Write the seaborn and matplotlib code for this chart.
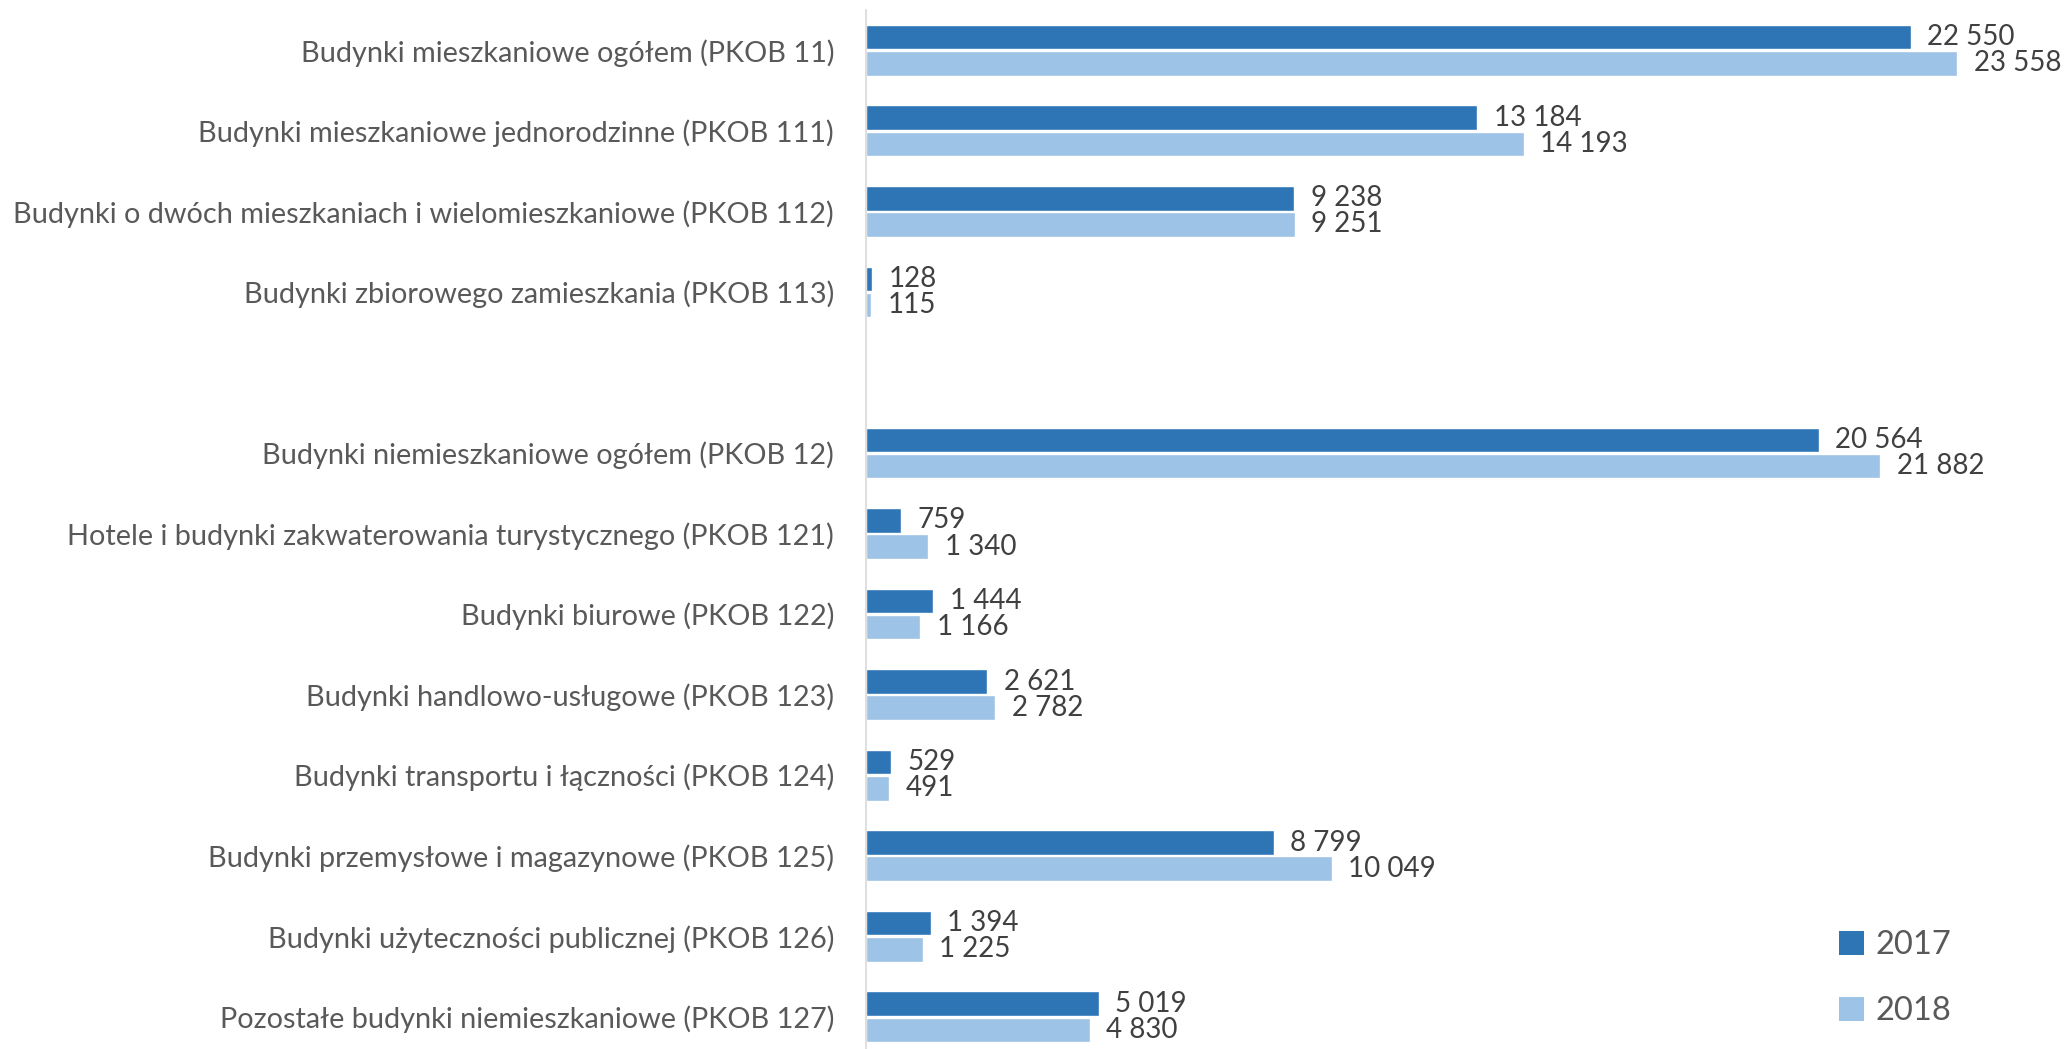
import pandas as pd
import seaborn as sns
import matplotlib.pyplot as plt
from matplotlib.patches import Patch

# Data
categories = [
    'Budynki mieszkaniowe ogółem (PKOB 11)',
    'Budynki mieszkaniowe jednorodzinne (PKOB 111)',
    'Budynki o dwóch mieszkaniach i wielomieszkaniowe (PKOB 112)',
    'Budynki zbiorowego zamieszkania (PKOB 113)',
    'Budynki niemieszkaniowe ogółem (PKOB 12)',
    'Hotele i budynki zakwaterowania turystycznego (PKOB 121)',
    'Budynki biurowe (PKOB 122)',
    'Budynki handlowo-usługowe (PKOB 123)',
    'Budynki transportu i łączności (PKOB 124)',
    'Budynki przemysłowe i magazynowe (PKOB 125)',
    'Budynki użyteczności publicznej (PKOB 126)',
    'Pozostałe budynki niemieszkaniowe (PKOB 127)',
]
values_2017 = [22550, 13184, 9238, 128, 20564, 759, 1444, 2621, 529, 8799, 1394, 5019]
values_2018 = [23558, 14193, 9251, 115, 21882, 1340, 1166, 2782, 491, 10049, 1225, 4830]
years = ['2017', '2018']

# empty slot between residential and non-residential groups
blank = ' '
order = categories[:4] + [blank] + categories[4:]

df = pd.DataFrame({
    'kategoria': categories * 2,
    'rok': [years[0]] * len(categories) + [years[1]] * len(categories),
    'wartosc': values_2017 + values_2018,
})

colors = {'2017': '#2E75B6', '2018': '#9DC3E6'}
text_col = '#595959'

sns.set_theme(style='white')
plt.rcParams['font.family'] = ['Lato', 'DejaVu Sans']

fig = plt.figure(figsize=(20.66, 10.49), dpi=100)
ax = fig.add_axes([866 / 2066, 0.0, 1 - 866 / 2066, 1039 / 1049])

sns.barplot(data=df, y='kategoria', x='wartosc', hue='rok', order=order,
            hue_order=years, palette=colors, orient='h', width=0.65, gap=0.06,
            saturation=1, legend=False, ax=ax)

for cont in ax.containers:
    labels = [f'{v:,.0f}'.replace(',', ' ') for v in cont.datavalues]
    ax.bar_label(cont, labels=labels, padding=12, fontsize=20, color='#404040')

ax.set_xlim(0, 25900)
ax.set_ylim(12.4, -0.5)
ax.set_xlabel('')
ax.set_ylabel('')
ax.set_xticks([])
ax.tick_params(axis='y', length=0, pad=23, labelsize=20.8, labelcolor=text_col)
for side in ['top', 'right', 'bottom']:
    ax.spines[side].set_visible(False)
ax.spines['left'].set_color('#D9D9D9')
ax.spines['left'].set_linewidth(1.2)

handles = [Patch(facecolor=colors[y], edgecolor='none') for y in years]
fig.legend(handles, years, loc='center left', bbox_to_anchor=(1810 / 2066, 1 - 978 / 1049),
           frameon=False, labelcolor=text_col, handlelength=0.75,
           handleheight=0.75, handletextpad=0.35, labelspacing=1.1,
           prop={'size': 23.5})

fig.savefig('out.png', dpi=100)
